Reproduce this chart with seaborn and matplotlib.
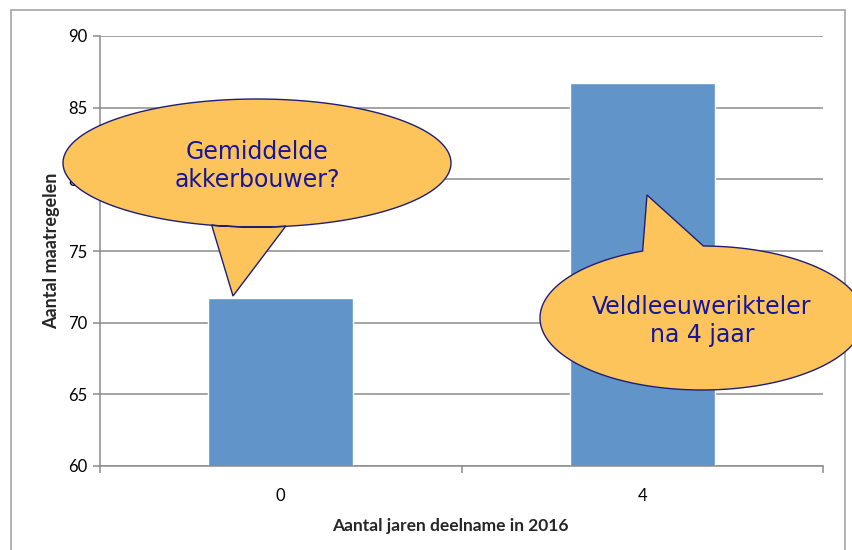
import numpy as np
import matplotlib
matplotlib.use("Agg")
import matplotlib.pyplot as plt
from matplotlib.patches import Polygon, Rectangle
import seaborn as sns

# data
years = ["0", "4"]
measures = [71.7, 86.7]
y_ticks = [60, 65, 70, 75, 80, 85, 90]

W, H = 852, 550
BAR = "#6195c9"
BUBBLE = "#fec45c"
EDGE = "#1e1e78"
TEXT = "#16169a"
GRID = "#8c8c8c"

sns.set_theme(style="white")
plt.rcParams["font.family"] = ["Lato", "DejaVu Sans"]

fig = plt.figure(figsize=(W / 100, H / 100), dpi=100)
ax = fig.add_axes([100 / W, (H - 466) / H, 723 / W, 430 / H])

sns.barplot(x=years, y=measures, color=BAR, width=0.4, saturation=1, ax=ax)

ax.set_ylim(60, 90)
ax.set_yticks(y_ticks)
ax.set_xlim(-0.5, 1.5)
ax.yaxis.grid(True, color=GRID, linewidth=1.1)
ax.set_axisbelow(True)
for s in ["top", "right"]:
    ax.spines[s].set_visible(False)
for s in ["left", "bottom"]:
    ax.spines[s].set_color(GRID)
    ax.spines[s].set_linewidth(1.1)
ax.tick_params(axis="y", length=5, width=1.1, color=GRID, labelsize=12, pad=4,
               left=True, labelcolor="black")
ax.tick_params(axis="x", which="major", length=0, labelsize=12, pad=16,
               labelcolor="black")
ax.set_xticks([-0.5, 0.5, 1.5], minor=True)
ax.tick_params(axis="x", which="minor", length=5, width=1.1, color=GRID, bottom=True)

ax.set_ylabel("Aantal maatregelen", fontsize=13, fontweight="bold")
ax.set_xlabel("Aantal jaren deelname in 2016", fontsize=12.5, fontweight="bold")
ax.yaxis.set_label_coords(-40 / 723, 0.5)
ax.xaxis.set_label_coords(0.5 - 11 / 723, -52 / 430)

# outer frame of the chart
fig.add_artist(Rectangle((11 / W, -0.05), (845 - 11) / W, 1.05 - 10 / H,
                         transform=fig.transFigure, fill=False,
                         edgecolor="#a6a6a6", linewidth=1.2))


def bubble(cx, cy, a, b, t1, t2, tip, label):
    # ellipse outline in pixels (y down), with a tail between angles t1..t2
    t1, t2 = np.radians(t1), np.radians(t2)
    ts = np.linspace(t2, t1 + 2 * np.pi, 200)
    pts = [(cx + a * np.cos(t), cy + b * np.sin(t)) for t in ts]
    pts.append(tip)
    xy = [(x / W, 1 - y / H) for x, y in pts]
    fig.add_artist(Polygon(xy, closed=True, transform=fig.transFigure,
                           facecolor=BUBBLE, edgecolor=EDGE, linewidth=1.0,
                           zorder=5))
    fig.text(cx / W, 1 - (cy + 3) / H, label, ha="center", va="center",
             fontsize=17, color=TEXT, family=["DejaVu Sans"],
             linespacing=1.2, zorder=6)


bubble(257, 163, 194, 64, 103.5, 81.5, (233, 296), "Gemiddelde\nakkerbouwer?")
bubble(702, 318, 162, 72, -111.5, -89.5, (647, 195), "Veldleeuwerikteler\nna 4 jaar")

fig.savefig("out.png", dpi=100)
